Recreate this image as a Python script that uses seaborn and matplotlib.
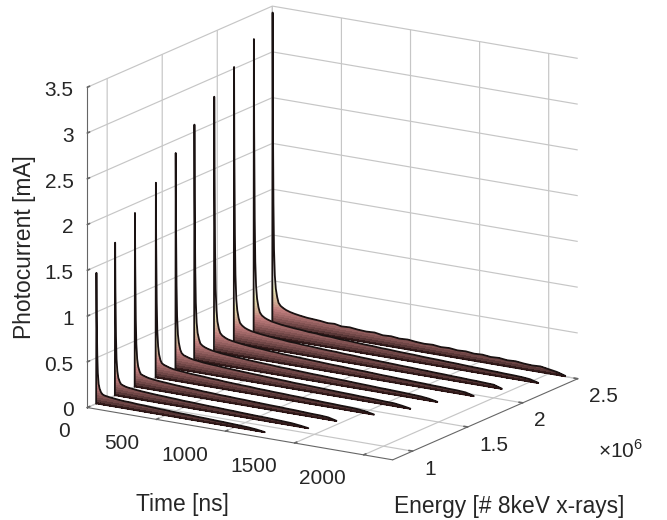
import numpy as np
import seaborn as sns
import matplotlib.pyplot as plt
from matplotlib.transforms import ScaledTranslation

sns.set_theme(style='white')
plt.rcParams['font.family'] = ['Liberation Sans', 'DejaVu Sans']
plt.rcParams['mathtext.fontset'] = 'custom'
plt.rcParams['mathtext.rm'] = 'Liberation Sans'

# common time samples, each trace stops where its list stops
time_ns = [0, 2, 4, 8, 12, 18, 25, 35, 45, 60, 80, 100, 130, 160, 200, 250, 300, 350, 400, 450, 500, 560,
           620, 680, 740, 800, 860, 920, 980, 1040, 1100, 1160, 1220, 1280, 1340, 1400, 1460, 1520, 1580,
           1640, 1700, 1760, 1820, 1880, 1940, 2000, 2060, 2120]

# energy of each trace, in units of 1e6 x-rays
energy = [0.90, 1.07, 1.25, 1.44, 1.62, 1.79, 1.97, 2.15, 2.33, 2.50]

current_1 = [0, 1.43, 0.98, 0.55, 0.34, 0.22, 0.17, 0.135, 0.115, 0.105, 0.1, 0.095, 0.09, 0.085, 0.08, 0.078,
             0.072, 0.07, 0.066, 0.062, 0.06, 0.055, 0.052, 0.05, 0.046, 0.044, 0.04, 0.038, 0.034, 0.03, 0.026,
             0.018, 0.005]
current_2 = [0, 1.67, 1.15, 0.65, 0.40, 0.27, 0.2, 0.16, 0.135, 0.125, 0.115, 0.11, 0.105, 0.1, 0.095, 0.09,
             0.085, 0.082, 0.078, 0.075, 0.07, 0.068, 0.064, 0.06, 0.058, 0.054, 0.052, 0.048, 0.045, 0.042,
             0.04, 0.036, 0.032, 0.028, 0.018, 0.005]
current_3 = [0, 1.90, 1.32, 0.74, 0.47, 0.31, 0.23, 0.18, 0.15, 0.14, 0.13, 0.122, 0.115, 0.11, 0.105, 0.1,
             0.094, 0.09, 0.086, 0.083, 0.078, 0.075, 0.07, 0.068, 0.064, 0.062, 0.058, 0.055, 0.052, 0.05,
             0.046, 0.044, 0.04, 0.036, 0.034, 0.028, 0.006]
current_4 = [0, 2.13, 1.48, 0.83, 0.52, 0.35, 0.26, 0.2, 0.17, 0.155, 0.145, 0.135, 0.125, 0.12, 0.115, 0.108,
             0.104, 0.1, 0.094, 0.092, 0.086, 0.082, 0.078, 0.076, 0.07, 0.068, 0.064, 0.062, 0.058, 0.056,
             0.052, 0.05, 0.046, 0.044, 0.04, 0.038, 0.034, 0.024, 0.006]
current_5 = [0, 2.36, 1.64, 0.92, 0.58, 0.38, 0.29, 0.22, 0.185, 0.165, 0.155, 0.145, 0.135, 0.13, 0.122, 0.116,
             0.112, 0.106, 0.102, 0.098, 0.094, 0.09, 0.086, 0.082, 0.078, 0.075, 0.07, 0.068, 0.065, 0.062,
             0.058, 0.055, 0.052, 0.05, 0.046, 0.044, 0.04, 0.036, 0.034, 0.022, 0.006]
current_6 = [0, 2.58, 1.80, 1.01, 0.64, 0.42, 0.31, 0.245, 0.2, 0.18, 0.165, 0.155, 0.145, 0.138, 0.13, 0.124,
             0.118, 0.114, 0.108, 0.104, 0.1, 0.096, 0.09, 0.088, 0.084, 0.08, 0.076, 0.074, 0.07, 0.066,
             0.064, 0.06, 0.057, 0.054, 0.05, 0.048, 0.045, 0.042, 0.038, 0.034, 0.024, 0.006]
current_7 = [0, 2.79, 1.95, 1.10, 0.69, 0.46, 0.34, 0.265, 0.22, 0.195, 0.178, 0.165, 0.155, 0.148, 0.14, 0.132,
             0.126, 0.122, 0.115, 0.112, 0.106, 0.102, 0.098, 0.094, 0.09, 0.086, 0.082, 0.08, 0.075, 0.072,
             0.07, 0.066, 0.062, 0.06, 0.056, 0.054, 0.05, 0.048, 0.044, 0.042, 0.038, 0.036, 0.03, 0.006]
current_8 = [0, 3.02, 2.11, 1.19, 0.75, 0.49, 0.37, 0.285, 0.235, 0.21, 0.19, 0.178, 0.165, 0.158, 0.15, 0.142,
             0.135, 0.13, 0.122, 0.12, 0.113, 0.11, 0.104, 0.1, 0.098, 0.092, 0.09, 0.085, 0.082, 0.078,
             0.075, 0.072, 0.068, 0.066, 0.062, 0.06, 0.056, 0.054, 0.05, 0.048, 0.044, 0.042, 0.038, 0.034,
             0.006]
current_9 = [0, 3.23, 2.26, 1.27, 0.80, 0.53, 0.40, 0.31, 0.255, 0.225, 0.205, 0.192, 0.178, 0.17, 0.16, 0.152,
             0.145, 0.14, 0.132, 0.13, 0.122, 0.12, 0.112, 0.11, 0.105, 0.1, 0.098, 0.092, 0.09, 0.085,
             0.082, 0.08, 0.075, 0.072, 0.07, 0.066, 0.064, 0.06, 0.056, 0.054, 0.05, 0.048, 0.044, 0.042,
             0.038, 0.03, 0.006]
current_10 = [0, 3.43, 2.40, 1.35, 0.85, 0.56, 0.42, 0.33, 0.27, 0.24, 0.22, 0.205, 0.19, 0.18, 0.17, 0.16,
              0.155, 0.15, 0.14, 0.145, 0.13, 0.135, 0.125, 0.12, 0.125, 0.11, 0.115, 0.105, 0.11, 0.10,
              0.095, 0.10, 0.09, 0.095, 0.085, 0.09, 0.08, 0.085, 0.075, 0.08, 0.07, 0.075, 0.065, 0.06,
              0.065, 0.05, 0.035, 0.008]
currents = [current_1, current_2, current_3, current_4, current_5,
            current_6, current_7, current_8, current_9, current_10]

time_ticks = [0, 500, 1000, 1500, 2000]
energy_ticks = [1, 1.5, 2, 2.5]
energy_labels = ['1', '1.5', '2', '2.5']
current_ticks = [0, 0.5, 1, 1.5, 2, 2.5, 3, 3.5]
current_labels = ['0', '0.5', '1', '1.5', '2', '2.5', '3', '3.5']

fig = plt.figure(figsize=(6.67, 5.2), dpi=100)
ax = fig.add_axes([-8 / 667, 20 / 520, 1, 1], projection='3d', proj_type='ortho')
ax.computed_zorder = False
ax.view_init(elev=15.9, azim=-58)
ax.set_box_aspect((360, 349, 333), zoom=1.124)

pink = sns.color_palette('pink', as_cmap=True)
levels = np.append(np.linspace(0, 0.55, 23), 3.6)

# back trace first so the nearer ribbons cover it
for i, (e, h) in enumerate(zip(energy, currents)):
    t = np.array(time_ns[:len(h)], dtype=float)
    h = np.array(h)
    X = np.tile(t, (len(levels), 1))
    Y = np.full(X.shape, e)
    Z = np.minimum.outer(levels, h)
    ax.plot_surface(X, Y, Z, cmap=pink, vmin=0, vmax=0.55, rstride=1, cstride=1, linewidth=0,
                    antialiased=False, shade=False, zorder=2 * (10 - i))
    ax.plot(t, np.full(t.shape, e), h, color='#1a1212', lw=1.3, zorder=2 * (10 - i) + 1)
    ax.plot(t, np.full(t.shape, e), np.zeros(t.shape), color='#2a1414', lw=0.8, zorder=2 * (10 - i) + 1)

ax.set_xlim(0, 2210)
ax.set_ylim(0.82, 2.5)
ax.set_zlim(0, 3.5)
ax.set_xticks(time_ticks)
ax.set_yticks(energy_ticks)
ax.set_yticklabels(energy_labels)
ax.set_zticks(current_ticks)
ax.set_zticklabels(current_labels)
ax.zaxis.set_ticks_position('lower')

for axis in (ax.xaxis, ax.yaxis, ax.zaxis):
    axis.set_pane_color((1, 1, 1, 0))
    axis.pane.set_edgecolor((1, 1, 1, 0))
    axis.line.set_color('#666666')
    axis.line.set_linewidth(0.8)
    axis._axinfo['grid']['color'] = '#c6c6c6'
    axis._axinfo['grid']['linewidth'] = 0.85
    axis._axinfo['tick']['inward_factor'] = 0
    axis._axinfo['tick']['outward_factor'] = 0.15
ax.tick_params(axis='x', labelsize=15, labelcolor='#262626', color='#666666', pad=-1)
ax.tick_params(axis='y', labelsize=15, labelcolor='#262626', color='#666666', pad=-2.5)
ax.tick_params(axis='z', labelsize=15, labelcolor='#262626', color='#666666', pad=-2.5)


# nudge tick labels, in pixels at dpi 100
# Axis3D resets tick transforms on every draw, so block that for these labels
def nudge(labels, dx, dy, ha):
    for lab in labels:
        lab.set_ha(ha)
        lab.set_transform(ax.transData + ScaledTranslation(dx / 100, dy / 100, fig.dpi_scale_trans))
        lab.set_transform = lambda tr: None


nudge(ax.get_xticklabels(), -11, 0, 'right')
nudge(ax.get_yticklabels(), 3, 2, 'left')
nudge(ax.get_zticklabels(), 0, 7, 'right')

fig.text(182 / 667, 1 - 505 / 520, 'Time [ns]', fontsize=16.4, color='#262626', ha='center', va='center')
fig.text(509 / 667, 1 - 506 / 520, 'Energy [# 8keV x-rays]', fontsize=16.4, color='#262626', ha='center', va='center')
fig.text(25 / 667, 1 - 247 / 520, 'Photocurrent [mA]', fontsize=16.4, color='#262626', rotation=90, ha='center', va='center')
fig.text(621 / 667, 1 - 450 / 520, r'$\times 10^{6}$', fontsize=15, color='#262626', ha='center', va='center')

fig.savefig('out.png', dpi=100)
